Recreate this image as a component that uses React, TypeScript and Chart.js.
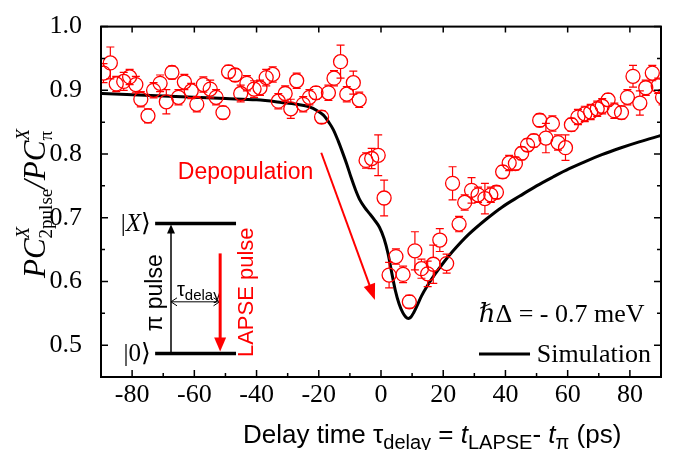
import React, { useEffect, useRef } from 'react';
import { Chart, registerables } from 'chart.js';

Chart.register(...registerables);

// ---- measured data (delay in ps, normalised photocurrent ratio) ----
const delayPs = [
  -89.2, -87.0, -85.1, -82.7, -80.8, -78.8, -77.2, -74.9, -73.1, -71.0,
  -69.0, -67.2, -65.1, -63.2, -61.0, -59.2, -57.1, -54.9, -53.0, -50.8,
  -49.0, -46.9, -45.1, -43.1, -40.8, -38.9, -36.9, -34.8, -33.0, -30.8,
  -29.0, -27.1, -25.0, -23.0, -20.9, -19.1, -16.9, -15.1, -13.0, -11.0,
  -8.9, -7.0, -4.8, -3.0, -0.9, 1.0, 2.6, 4.8, 7.1, 9.1,
  10.9, 13.0, 15.0, 16.8, 18.9, 21.1, 23.0, 25.1, 26.9, 29.1,
  31.2, 33.4, 35.3, 37.1, 39.1, 41.2, 43.2, 45.2, 47.1, 49.1,
  51.0, 53.0, 55.1, 56.9, 59.3, 61.2, 63.3, 65.5, 67.4, 69.5,
  71.1, 73.0, 75.0, 77.3, 79.2, 81.0, 83.2, 85.1, 87.2, 89.1, 90.5,
];
const ratio = [
  0.927, 0.943, 0.910, 0.914, 0.921, 0.909, 0.886, 0.860, 0.900, 0.911,
  0.882, 0.928, 0.889, 0.913, 0.899, 0.878, 0.909, 0.902, 0.889, 0.865,
  0.929, 0.924, 0.895, 0.911, 0.902, 0.904, 0.920, 0.925, 0.883, 0.895,
  0.871, 0.915, 0.878, 0.889, 0.896, 0.858, 0.896, 0.919, 0.945, 0.894,
  0.912, 0.885, 0.790, 0.793, 0.798, 0.731, 0.610, 0.639, 0.611, 0.568,
  0.648, 0.620, 0.612, 0.627, 0.665, 0.628, 0.754, 0.690, 0.724, 0.743,
  0.736, 0.730, 0.736, 0.740, 0.772, 0.786, 0.785, 0.801, 0.814, 0.821,
  0.853, 0.825, 0.848, 0.818, 0.810, 0.846, 0.858, 0.863, 0.866, 0.871,
  0.875, 0.885, 0.868, 0.865, 0.889, 0.922, 0.880, 0.904, 0.927, 0.907, 0.889,
];
const ratioErr = [
  0.015, 0.025, 0.012, 0.014, 0.012, 0.013, 0.012, 0.011, 0.012, 0.013,
  0.019, 0.010, 0.012, 0.012, 0.012, 0.012, 0.012, 0.014, 0.012, 0.010,
  0.010, 0.010, 0.013, 0.012, 0.013, 0.012, 0.013, 0.012, 0.012, 0.012,
  0.015, 0.012, 0.012, 0.012, 0.010, 0.010, 0.012, 0.012, 0.026, 0.012,
  0.018, 0.012, 0.012, 0.016, 0.032, 0.028, 0.020, 0.012, 0.013, 0.010,
  0.030, 0.015, 0.020, 0.030, 0.018, 0.015, 0.026, 0.012, 0.012, 0.020,
  0.012, 0.024, 0.012, 0.010, 0.010, 0.012, 0.010, 0.010, 0.010, 0.010,
  0.010, 0.023, 0.012, 0.012, 0.020, 0.010, 0.012, 0.012, 0.012, 0.012,
  0.012, 0.010, 0.012, 0.010, 0.012, 0.017, 0.019, 0.012, 0.012, 0.012, 0.012,
];

// ---- simulation curve ----
const simDelayPs = [
  -90, -70, -50, -40, -32, -27, -23, -20.5, -18.5, -16.8,
  -15.3, -13.8, -12.4, -11, -9.6, -8.2, -6.8, -5.2, -3.6, -2,
  -0.5, 1, 2.2, 3.4, 4.6, 5.8, 7, 8, 8.8, 9.6,
  10.5, 11.5, 13, 15, 17.3, 20, 23.2, 28, 33.9, 39,
  44.6, 50, 55.3, 60.5, 66, 71, 76.7, 83, 90,
];
const simRatio = [
  0.895, 0.891, 0.887, 0.885, 0.881, 0.878, 0.874, 0.868, 0.861, 0.850,
  0.838, 0.821, 0.803, 0.784, 0.763, 0.744, 0.728, 0.716, 0.706, 0.696,
  0.685, 0.667, 0.645, 0.615, 0.586, 0.565, 0.551, 0.544, 0.542, 0.544,
  0.551, 0.561, 0.577, 0.594, 0.611, 0.629, 0.648, 0.673, 0.698, 0.717,
  0.734, 0.750, 0.764, 0.777, 0.789, 0.799, 0.809, 0.819, 0.829,
];

// ---- axes ----
const xTickValues = [-80, -60, -40, -20, 0, 20, 40, 60, 80];
const xMinorTicks = [-90, -70, -50, -30, -10, 10, 30, 50, 70, 90];
const yTickValues = [0.5, 0.6, 0.7, 0.8, 0.9, 1.0];
const yMinorTicks = [0.45, 0.55, 0.65, 0.75, 0.85, 0.95];

// ---- texts ----
const legendParam = 'ℏΔ = - 0.7 meV';
const legendSim = 'Simulation';
const depopLabel = 'Depopulation';
const piPulseLabel = 'π pulse';
const lapseLabel = 'LAPSE pulse';

const SANS = "'Liberation Sans', Arial, sans-serif";
const SERIF = "'Liberation Serif', 'DejaVu Serif', serif";
const RED = '#ff0000';

type Piece = { text: string; font: string; dy?: number; noAdvance?: boolean };

function drawRich(ctx: CanvasRenderingContext2D, pieces: Piece[], x: number, y: number) {
  let cx = x;
  ctx.textAlign = 'left';
  ctx.textBaseline = 'alphabetic';
  for (const p of pieces) {
    ctx.font = p.font;
    ctx.fillText(p.text, cx, y + (p.dy || 0));
    if (!p.noAdvance) cx += ctx.measureText(p.text).width;
  }
}

function arrowHead(ctx: CanvasRenderingContext2D, x1: number, y1: number, x2: number, y2: number, len: number, hw: number) {
  const a = Math.atan2(y2 - y1, x2 - x1);
  const bx = x2 - len * Math.cos(a);
  const by = y2 - len * Math.sin(a);
  ctx.beginPath();
  ctx.moveTo(x2, y2);
  ctx.lineTo(bx + hw * Math.sin(a), by - hw * Math.cos(a));
  ctx.lineTo(bx - hw * Math.sin(a), by + hw * Math.cos(a));
  ctx.closePath();
  ctx.fill();
}

function chevron(ctx: CanvasRenderingContext2D, x1: number, y1: number, x2: number, y2: number, len: number, hw: number) {
  const a = Math.atan2(y2 - y1, x2 - x1);
  const bx = x2 - len * Math.cos(a);
  const by = y2 - len * Math.sin(a);
  ctx.beginPath();
  ctx.moveTo(bx + hw * Math.sin(a), by - hw * Math.cos(a));
  ctx.lineTo(x2, y2);
  ctx.lineTo(bx - hw * Math.sin(a), by + hw * Math.cos(a));
  ctx.stroke();
}

const overlayPlugin = {
  id: 'overlay',
  beforeDraw(chart: any) {
    const ctx = chart.ctx as CanvasRenderingContext2D;
    ctx.save();
    ctx.fillStyle = '#fff';
    ctx.fillRect(0, 0, chart.width, chart.height);
    ctx.restore();
  },
  afterDatasetsDraw(chart: any) {
    const ctx = chart.ctx as CanvasRenderingContext2D;
    const xs = chart.scales.x;
    const ys = chart.scales.y;
    const a = chart.chartArea;
    // error bars
    ctx.save();
    ctx.beginPath();
    ctx.rect(a.left, a.top, a.right - a.left, a.bottom - a.top);
    ctx.clip();
    ctx.strokeStyle = RED;
    ctx.lineWidth = 1.2;
    const r = 7;
    for (let i = 0; i < delayPs.length; i++) {
      const px = xs.getPixelForValue(delayPs[i]);
      const py = ys.getPixelForValue(ratio[i]);
      const pt = ys.getPixelForValue(ratio[i] + ratioErr[i]);
      const pb = ys.getPixelForValue(ratio[i] - ratioErr[i]);
      ctx.beginPath();
      if (py - pt > r) { ctx.moveTo(px, py - r); ctx.lineTo(px, pt); }
      if (pb - py > r) { ctx.moveTo(px, py + r); ctx.lineTo(px, pb); }
      ctx.moveTo(px - 4, pt); ctx.lineTo(px + 4, pt);
      ctx.moveTo(px - 4, pb); ctx.lineTo(px + 4, pb);
      ctx.stroke();
    }
    ctx.restore();
  },
  afterDraw(chart: any) {
    const ctx = chart.ctx as CanvasRenderingContext2D;
    const xs = chart.scales.x;
    const ys = chart.scales.y;
    const a = chart.chartArea;
    const X = (v: number) => xs.getPixelForValue(v);
    const Y = (v: number) => ys.getPixelForValue(v);
    ctx.save();
    // frame and ticks
    ctx.strokeStyle = '#000';
    ctx.lineWidth = 1.5;
    ctx.beginPath();
    for (const v of xTickValues) {
      const px = X(v);
      ctx.moveTo(px, a.bottom); ctx.lineTo(px, a.bottom - 7);
      ctx.moveTo(px, a.top); ctx.lineTo(px, a.top + 6);
    }
    for (const v of xMinorTicks) {
      const px = X(v);
      ctx.moveTo(px, a.bottom); ctx.lineTo(px, a.bottom - 4);
    }
    for (const v of yTickValues) {
      const py = Y(v);
      ctx.moveTo(a.left, py); ctx.lineTo(a.left + 7, py);
      ctx.moveTo(a.right, py); ctx.lineTo(a.right - 7, py);
    }
    for (const v of yMinorTicks) {
      const py = Y(v);
      ctx.moveTo(a.left, py); ctx.lineTo(a.left + 4, py);
      ctx.moveTo(a.right, py); ctx.lineTo(a.right - 4, py);
    }
    ctx.stroke();
    ctx.lineWidth = 2;
    ctx.strokeRect(a.left, a.top, a.right - a.left, a.bottom - a.top);

    // x axis title
    ctx.fillStyle = '#000';
    drawRich(ctx, [
      { text: 'Delay time ', font: `26px ${SANS}` },
      { text: 'τ', font: `26px ${SANS}` },
      { text: 'delay', font: `20px ${SANS}`, dy: 6 },
      { text: ' = ', font: `26px ${SANS}` },
      { text: 't', font: `italic 26px ${SANS}` },
      { text: 'LAPSE', font: `20px ${SANS}`, dy: 6 },
      { text: '- ', font: `26px ${SANS}` },
      { text: 't', font: `italic 26px ${SANS}` },
      { text: 'π', font: `20px ${SANS}`, dy: 6 },
      { text: ' (ps)', font: `26px ${SANS}` },
    ], 243, 443);

    // y axis title (rotated)
    ctx.save();
    ctx.translate(45, 278);
    ctx.rotate(-Math.PI / 2);
    drawRich(ctx, [
      { text: 'PC', font: `italic 31px ${SERIF}` },
      { text: 'X', font: `italic 19px ${SERIF}`, dy: -16, noAdvance: true },
      { text: '2pulse', font: `19px ${SERIF}`, dy: 7 },
      { text: '/', font: `italic 31px ${SERIF}` },
      { text: 'PC', font: `italic 31px ${SERIF}` },
      { text: 'X', font: `italic 19px ${SERIF}`, dy: -16, noAdvance: true },
      { text: 'π', font: `19px ${SERIF}`, dy: 7 },
    ], 0, 0);
    ctx.restore();

    // legend
    ctx.fillStyle = '#000';
    ctx.font = `26px ${SERIF}`;
    ctx.textAlign = 'left';
    ctx.textBaseline = 'alphabetic';
    ctx.fillText(legendParam, X(31.4), Y(0.536));
    ctx.fillText(legendSim, X(50.1), Y(0.474));
    ctx.lineWidth = 3;
    ctx.beginPath();
    ctx.moveTo(X(31.5), Y(0.486));
    ctx.lineTo(X(47.9), Y(0.486));
    ctx.stroke();

    // depopulation annotation
    ctx.fillStyle = RED;
    ctx.strokeStyle = RED;
    ctx.font = `23px ${SANS}`;
    ctx.fillText(depopLabel, X(-65.3), Y(0.761));
    {
      const x1 = X(-19.2), y1 = Y(0.802), x2 = X(-1.96), y2 = Y(0.571);
      const ang = Math.atan2(y2 - y1, x2 - x1);
      ctx.lineWidth = 2;
      ctx.beginPath();
      ctx.moveTo(x1, y1);
      ctx.lineTo(x2 - 12 * Math.cos(ang), y2 - 12 * Math.sin(ang));
      ctx.stroke();
      arrowHead(ctx, x1, y1, x2, y2, 16, 6);
    }

    // inset: level scheme
    ctx.fillStyle = '#000';
    ctx.strokeStyle = '#000';
    ctx.lineWidth = 3.5;
    ctx.beginPath();
    ctx.moveTo(X(-72.6), Y(0.691)); ctx.lineTo(X(-46.6), Y(0.691));
    ctx.moveTo(X(-72.6), Y(0.487)); ctx.lineTo(X(-46.6), Y(0.487));
    ctx.stroke();

    const ketX = (label: string, italic: boolean, yc: number) => {
      const xr = X(-74.0);
      const pieces: Piece[] = [
        { text: '|', font: `25px ${SERIF}` },
        { text: label, font: `${italic ? 'italic ' : ''}25px ${SERIF}` },
        { text: '⟩', font: `25px 'DejaVu Serif', serif` },
      ];
      let w = 0;
      for (const p of pieces) { ctx.font = p.font; w += ctx.measureText(p.text).width; }
      drawRich(ctx, pieces, xr - w, Y(yc) + 8);
    };
    ketX('X', true, 0.691);
    ketX('0', false, 0.487);

    // pi pulse arrow
    ctx.lineWidth = 1.5;
    ctx.beginPath();
    ctx.moveTo(X(-67.5), Y(0.487));
    ctx.lineTo(X(-67.5), Y(0.691) + 8);
    ctx.stroke();
    arrowHead(ctx, X(-67.5), Y(0.487), X(-67.5), Y(0.691) + 1, 9, 4);

    // rotated "π pulse"
    ctx.save();
    ctx.translate(X(-72.3), Y(0.582));
    ctx.rotate(-Math.PI / 2);
    ctx.textAlign = 'center';
    ctx.textBaseline = 'middle';
    ctx.font = `23px ${SANS}`;
    ctx.fillText(piPulseLabel, 0, 0);
    ctx.restore();

    // tau_delay label
    drawRich(ctx, [
      { text: 'τ', font: `20px ${SANS}` },
      { text: 'delay', font: `15px ${SANS}`, dy: 4 },
    ], X(-65.6), Y(0.577));

    // double arrow
    ctx.lineWidth = 1;
    ctx.beginPath();
    ctx.moveTo(X(-67.5), Y(0.568));
    ctx.lineTo(X(-51.9), Y(0.568));
    ctx.stroke();
    chevron(ctx, X(-51.9), Y(0.568), X(-67.5), Y(0.568), 6, 4);
    chevron(ctx, X(-67.5), Y(0.568), X(-51.9), Y(0.568), 6, 4);

    // red LAPSE arrow
    ctx.fillStyle = RED;
    ctx.strokeStyle = RED;
    ctx.lineWidth = 3;
    ctx.beginPath();
    ctx.moveTo(X(-51.7), Y(0.644));
    ctx.lineTo(X(-51.7), Y(0.490) - 10);
    ctx.stroke();
    arrowHead(ctx, X(-51.7), Y(0.644), X(-51.7), Y(0.490), 14, 6);

    ctx.save();
    ctx.translate(X(-43.1), Y(0.583));
    ctx.rotate(-Math.PI / 2);
    ctx.textAlign = 'center';
    ctx.textBaseline = 'middle';
    ctx.font = `22px ${SANS}`;
    ctx.fillText(lapseLabel, 0, 0);
    ctx.restore();

    ctx.restore();
  },
};

export default function App() {
  const canvasRef = useRef<HTMLCanvasElement | null>(null);

  useEffect(() => {
    const canvas = canvasRef.current;
    if (!canvas) return;
    const chart = new Chart(canvas, {
      type: 'scatter',
      data: {
        datasets: [
          {
            label: 'Experiment',
            data: delayPs.map((x, i) => ({ x, y: ratio[i] })),
            pointRadius: 7,
            pointHoverRadius: 7,
            pointStyle: 'circle',
            borderColor: RED,
            backgroundColor: 'rgba(0,0,0,0)',
            borderWidth: 1.3,
            clip: 0,
            order: 0,
          } as any,
          {
            label: 'Simulation',
            data: simDelayPs.map((x, i) => ({ x, y: simRatio[i] })),
            showLine: true,
            pointRadius: 0,
            borderColor: '#000',
            borderWidth: 3,
            cubicInterpolationMode: 'monotone',
            fill: false,
            order: 1,
          } as any,
        ],
      },
      options: {
        animation: false,
        responsive: false,
        events: [],
        layout: { padding: { left: 0, top: 15, right: 25, bottom: 0 } },
        plugins: { legend: { display: false }, tooltip: { enabled: false } },
        scales: {
          x: {
            type: 'linear',
            min: -90,
            max: 90,
            grid: { display: false },
            border: { display: false },
            afterBuildTicks: (s: any) => { s.ticks = xTickValues.map((v) => ({ value: v })); },
            afterFit: (s: any) => { s.height = 73; },
            ticks: {
              color: '#000',
              font: { family: 'Liberation Serif', size: 26 },
              padding: -5,
              maxRotation: 0,
              autoSkip: false,
              callback: (v: any) => String(v),
            },
          },
          y: {
            type: 'linear',
            min: 0.45,
            max: 1.0,
            grid: { display: false },
            border: { display: false },
            afterBuildTicks: (s: any) => { s.ticks = yTickValues.map((v) => ({ value: v })); },
            afterFit: (s: any) => { s.width = 101; },
            ticks: {
              color: '#000',
              font: { family: 'Liberation Serif', size: 26 },
              padding: 11,
              autoSkip: false,
              callback: (v: any) => Number(v).toFixed(1),
            },
          },
        },
      },
      plugins: [overlayPlugin],
    });
    return () => chart.destroy();
  }, []);

  return (
    <div style={{ position: 'absolute', left: 0, top: 0, width: 686, height: 450, background: '#fff' }}>
      <canvas ref={canvasRef} width={686} height={450} style={{ width: 686, height: 450, display: 'block' }} />
    </div>
  );
}
